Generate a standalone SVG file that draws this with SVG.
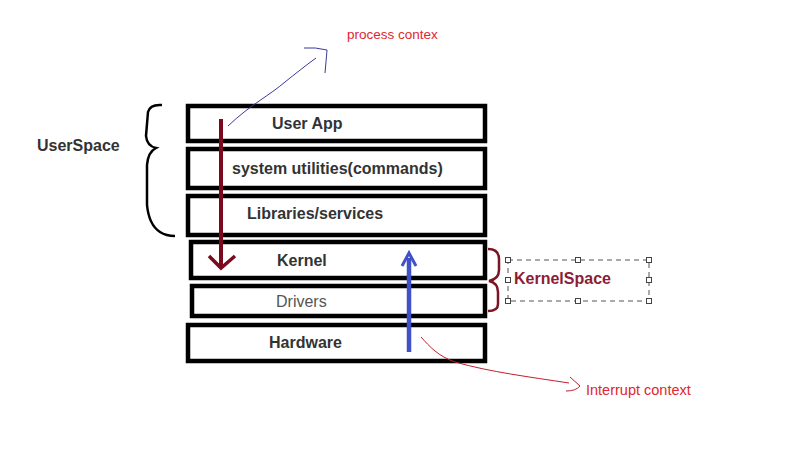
<svg xmlns="http://www.w3.org/2000/svg" width="787" height="454" viewBox="0 0 787 454">
<style>
.box{fill:#fff;stroke:#000;stroke-width:4.5}
.lbl{font-family:"Liberation Sans",Arial,sans-serif;font-size:16px;font-weight:bold;fill:#333}
.thin{font-weight:normal;fill:#555}
.red{font-family:"Liberation Sans",Arial,sans-serif;fill:#e0262e}
.handle{fill:#fff;stroke:#444;stroke-width:1}
</style>
<rect width="787" height="454" fill="#fff"/>
<g id="user-app"><rect class="box" x="188" y="106" width="297" height="35"/><text class="lbl" x="272" y="129">User App</text></g>
<g id="system-utilities"><rect class="box" x="188" y="149" width="297" height="39"/><text class="lbl" x="232" y="174">system utilities(commands)</text></g>
<g id="libraries"><rect class="box" x="188" y="196" width="297" height="39"/><text class="lbl" x="247" y="219">Libraries/services</text></g>
<g id="kernel"><rect class="box" x="191" y="242" width="294" height="36"/><text class="lbl" x="277" y="266">Kernel</text></g>
<g id="drivers"><rect class="box" x="192" y="286" width="293" height="30"/><text class="lbl thin" x="276" y="307">Drivers</text></g>
<g id="hardware"><rect class="box" x="188" y="325" width="297" height="36"/><text class="lbl" x="269" y="348">Hardware</text></g>
<g id="userspace"><path d="M162,105 Q150,104 148,112 L146,136 Q147,146 156,148 Q148,152 147,165 L147,205 Q149,225 160,232 Q166,236 175,236" fill="none" stroke="#000" stroke-width="2.5"/><text class="lbl" x="37" y="151">UserSpace</text></g>
<g id="kernelspace">
<path d="M488,249 Q499,249 499,259 L499,270 Q499,279 489,281 Q498,283 498,292 L498,304 Q498,311 488,311" fill="none" stroke="#7b1424" stroke-width="2.5"/>
<rect x="508" y="260" width="141" height="41" fill="none" stroke="#555" stroke-width="1" stroke-dasharray="5,4"/>
<rect class="handle" x="505.5" y="257.5" width="5" height="5"/><rect class="handle" x="575.5" y="257.5" width="5" height="5"/><rect class="handle" x="646.5" y="257.5" width="5" height="5"/>
<rect class="handle" x="505.5" y="277.5" width="5" height="5"/><rect class="handle" x="646.5" y="277.5" width="5" height="5"/>
<rect class="handle" x="505.5" y="298.5" width="5" height="5"/><rect class="handle" x="575.5" y="298.5" width="5" height="5"/><rect class="handle" x="646.5" y="298.5" width="5" height="5"/>
<text class="lbl" x="514" y="284" fill="#8b1d35" style="fill:#8b1d35" font-size="15.5">KernelSpace</text>
</g>
<g id="process-context"><text class="red" x="347" y="39" font-size="13.5">process contex</text></g>
<g id="interrupt-context"><text class="red" x="586" y="395" font-size="14.5">Interrupt context</text></g>
<g id="connectors" fill="none">
<path d="M221,119 L221,268" stroke="#7b0a1e" stroke-width="4"/>
<path d="M209,256 L221,268 L235,256" stroke="#7b0a1e" stroke-width="3.5"/>
<path d="M409,352 L409,258" stroke="#4050c8" stroke-width="4.5"/>
<path d="M402,266 L409,253 L416,266" stroke="#4050c8" stroke-width="3"/>
<path d="M228,126 C250,105 270,95 285,82 C295,74 305,66 316,58" stroke="#3a3a9a" stroke-width="1"/>
<path d="M304,48 Q315,47 327,50 Q326,62 325,73" stroke="#3a3a9a" stroke-width="1"/>
<path d="M421,337 C430,347 438,356 455,362 C490,372 530,377 569,383" stroke="#c0202e" stroke-width="1"/>
<path d="M570,377 L580,386 Q576,391 566,391" stroke="#c0202e" stroke-width="1"/>
</g>
</svg>
